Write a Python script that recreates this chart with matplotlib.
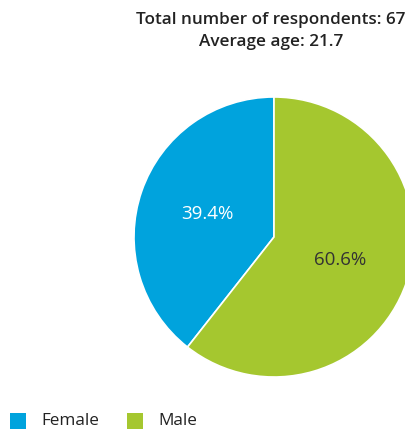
import matplotlib
matplotlib.use("Agg")
import matplotlib.pyplot as plt
from matplotlib.patches import Rectangle

categories = ["Female", "Male"]
values = [39.4, 60.6]
colors = ["#00A3DD", "#A5C72F"]
label_colors = ["white", "#333333"]
title_lines = ["Total number of respondents: 67", "Average age: 21.7"]

plt.rcParams['font.family'] = ['Open Sans', 'DejaVu Sans']

W, H = 406, 432
fig = plt.figure(figsize=(W / 100, H / 100), dpi=100)

cx, cy, r = 274, 237, 140
ax = fig.add_axes([(cx - r) / W, (H - cy - r) / H, 2 * r / W, 2 * r / H])
wedges, texts, autotexts = ax.pie(
    values, colors=colors, startangle=90, counterclock=True,
    autopct='%1.1f%%', pctdistance=0.5,
    wedgeprops=dict(edgecolor='white', linewidth=1.2),
    textprops=dict(fontsize=13.5))
for t, c in zip(autotexts, label_colors):
    t.set_color(c)
ax.set_xlim(-1, 1)
ax.set_ylim(-1, 1)
ax.set_aspect('equal')
ax.axis('off')
for w in wedges:
    w.set_clip_on(False)

fig.text(271 / W, 1 - 31 / H, "\n".join(title_lines), ha='center', va='center',
         fontsize=12.3, fontweight='semibold', color='#222222', linespacing=1.5)

# legend (manual layout in pixel positions)
sq = 16
legend_x = [10, 127]
legend_y = 413
for x0, c, lab in zip(legend_x, colors, categories):
    fig.patches.append(Rectangle((x0 / W, 1 - (legend_y + sq) / H), sq / W, sq / H,
                                 transform=fig.transFigure, facecolor=c,
                                 edgecolor='none'))
    fig.text((x0 + sq + 15) / W, 1 - (legend_y + sq / 2) / H, lab, ha='left',
             va='center', fontsize=12.3, color='#222222')

fig.savefig("out.png", dpi=100)
